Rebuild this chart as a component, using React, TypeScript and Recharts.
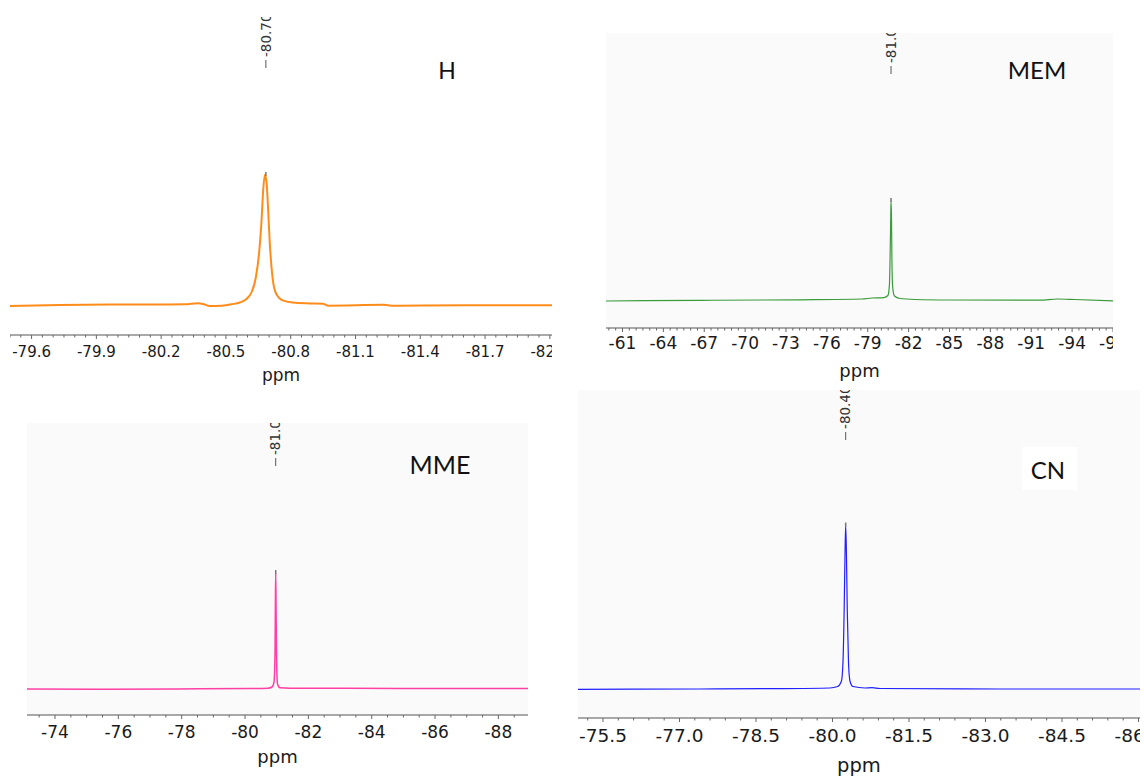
import React from "react";
import { LineChart, Line, XAxis, YAxis, CartesianGrid, ReferenceDot } from "recharts";

// 19F NMR spectra (ppm, normalised intensity)
const hPpm = [-79.5, -79.731, -79.962, -80.148, -80.31, -80.37, -80.393, -80.425, -80.481, -80.527, -80.564, -80.592, -80.619, -80.638, -80.654, -80.665, -80.672, -80.68, -80.688, -80.695, -80.703, -80.716, -80.731, -80.763, -80.81, -80.888, -80.949, -80.972, -81.231, -81.268, -81.629, -82.01];
const hInt = [-0.008, 0, 0.003, 0.004, 0.005, 0.013, 0.008, -0.008, -0.005, 0.006, 0.019, 0.042, 0.1, 0.208, 0.408, 0.654, 0.869, 1.0, 0.946, 0.746, 0.477, 0.208, 0.092, 0.035, 0.019, 0.012, 0.009, -0.005, 0.001, -0.005, -0.002, -0.002];

const memPpm = [-59.79, -66.69, -74.02, -78.57, -79.31, -80.19, -80.48, -80.59, -80.65, -80.69, -80.71, -80.74, -80.77, -80.83, -80.96, -81.36, -82.46, -85.03, -91.63, -92.95, -94.2, -97.0];
const memInt = [-0.01, -0.003, 0.002, 0.01, 0.02, 0.025, 0.045, 0.15, 0.505, 0.86, 1.0, 0.86, 0.455, 0.13, 0.04, 0.015, 0.005, 0, -0.002, 0.01, 0.005, -0.008];

const mmePpm = [-73.116, -75.42, -78.58, -80.157, -80.726, -80.852, -80.915, -80.947, -80.959, -80.969, -80.981, -80.997, -81.026, -81.105, -81.42, -84.89, -88.935];
const mmeInt = [-0.004, -0.006, -0.003, -0.001, 0.002, 0.013, 0.056, 0.29, 0.723, 1.0, 0.68, 0.247, 0.039, 0.006, 0.002, 0.001, 0];

const cnPpm = [-75.01, -77.4, -78.77, -79.95, -80.1, -80.176, -80.206, -80.229, -80.247, -80.259, -80.273, -80.29, -80.314, -80.343, -80.402, -80.637, -80.775, -80.931, -83.284, -86.03];
const cnInt = [-0.002, 0, 0.002, 0.006, 0.015, 0.049, 0.165, 0.483, 0.85, 1.0, 0.838, 0.483, 0.165, 0.049, 0.015, 0.006, 0.008, 0.003, 0, 0];

// axis labels
const hMajor = [-79.6, -79.9, -80.2, -80.5, -80.8, -81.1, -81.4, -81.7, -82.0];
const memMajor = [-61, -64, -67, -70, -73, -76, -79, -82, -85, -88, -91, -94, -97];
const mmeMajor = [-74, -76, -78, -80, -82, -84, -86, -88];
const cnMajor = [-75.5, -77.0, -78.5, -80.0, -81.5, -83.0, -84.5, -86.0];

const minorTicks = (start: number, step: number, count: number) => {
  const out: number[] = [];
  for (let i = 0; i < count; i++) out.push(+(start - i * step).toFixed(4));
  return out;
};

const makeTick = (majors: number[], decimals: number, fontSize: number, labelDy: number) => (props: any) => {
  const { x, y, payload } = props;
  const isMajor = majors.some((m) => Math.abs(m - payload.value) < 1e-6);
  return (
    <g>
      <line x1={x} y1={y} x2={x} y2={y + (isMajor ? 4 : 2.5)} stroke="#666" strokeWidth={1} />
      {isMajor && (
        <text x={x} y={y + labelDy} dy="0.36em" textAnchor="middle" fontSize={fontSize} fill="#1a1a1a" fontFamily="DejaVu Sans">
          {payload.value.toFixed(decimals)}
        </text>
      )}
    </g>
  );
};

const makePeakLabel = (text: string) => (props: any) => {
  const { cx, cy } = props;
  const ty = cy - 11;
  return (
    <g>
      <line x1={cx} y1={cy} x2={cx} y2={cy - 8} stroke="#555" strokeWidth={1} />
      <text x={cx} y={ty} dy="0.35em" transform={`rotate(-90 ${cx} ${ty})`} fontSize={13.5} fill="#333" fontFamily="DejaVu Sans">
        {text}
      </text>
    </g>
  );
};

const apexMark = (props: any) => {
  const { cx, cy } = props;
  return <line x1={cx} y1={cy - 3} x2={cx} y2={cy + 1} stroke="#777" strokeWidth={1.5} />;
};

type PanelProps = {
  left: number;
  top: number;
  width: number;
  plotH: number;
  axisH: number;
  xDomain: [number, number];
  yDomain: [number, number];
  ppm: number[];
  intensity: number[];
  color: string;
  strokeWidth: number;
  majors: number[];
  ticks: number[];
  decimals: number;
  fontSize: number;
  labelDy: number;
  ppmSize: number;
  bg?: string;
  peakX: number;
  peakLabelY: number;
  peakText: string;
};

const Panel: React.FC<PanelProps> = (p) => {
  const data = p.ppm.map((x, i) => ({ x, y: p.intensity[i] }));
  return (
    <div style={{ position: "absolute", left: p.left, top: p.top }}>
      <LineChart width={p.width} height={p.plotH + p.axisH} data={data} margin={{ top: 0, right: 0, bottom: 0, left: 0 }}>
        {p.bg && <CartesianGrid horizontal={false} vertical={false} fill={p.bg} stroke="none" />}
        <XAxis
          dataKey="x"
          type="number"
          domain={p.xDomain}
          reversed
          allowDataOverflow
          ticks={p.ticks}
          interval={0}
          tick={makeTick(p.majors, p.decimals, p.fontSize, p.labelDy)}
          tickLine={false}
          tickSize={0}
          tickMargin={0}
          axisLine={{ stroke: "#555" }}
          height={p.axisH}
          label={{ value: "ppm", position: "insideBottom", offset: 6.5, fontSize: p.ppmSize, fill: "#1a1a1a", fontFamily: "DejaVu Sans" }}
        />
        <YAxis hide width={0} type="number" domain={p.yDomain} allowDataOverflow />
        <Line type="monotone" dataKey="y" stroke={p.color} strokeWidth={p.strokeWidth} dot={false} isAnimationActive={false} />
        <ReferenceDot x={p.peakX} y={1} r={0} shape={apexMark} />
        <ReferenceDot x={p.peakX} y={p.peakLabelY} r={0} shape={makePeakLabel(p.peakText)} />
      </LineChart>
    </div>
  );
};

const titles = [
  { text: "H", x: 447, y: 71, size: 23 },
  { text: "MEM", x: 1037, y: 70, size: 24 },
  { text: "MME", x: 440, y: 465, size: 25 },
  { text: "CN", x: 1048, y: 470, size: 24 },
];

export default function App() {
  return (
    <div style={{ position: "absolute", left: 0, top: 0, width: 1144, height: 778, background: "#fff", overflow: "hidden" }}>
      <Panel
        left={10} top={17} width={542} plotH={318} axisH={52}
        xDomain={[-82.01, -79.5]} yDomain={[-0.2308, 2.2154]}
        ppm={hPpm} intensity={hInt} color="#ff8c1a" strokeWidth={2}
        majors={hMajor} ticks={minorTicks(-79.5, 0.05, 51)} decimals={1}
        fontSize={15} labelDy={17} ppmSize={17}
        peakX={-80.685} peakLabelY={1.823} peakText="-80.70"
      />
      <Panel
        left={606} top={33} width={507} plotH={295} axisH={55}
        xDomain={[-97, -59.79]} yDomain={[-0.2828, 2.697]}
        ppm={memPpm} intensity={memInt} color="#3a9b3a" strokeWidth={1.2}
        majors={memMajor} ticks={minorTicks(-60, 0.5, 75)} decimals={0}
        fontSize={17} labelDy={15} ppmSize={18} bg="#fafafa"
        peakX={-80.71} peakLabelY={2.283} peakText="-81.00"
      />
      <Panel
        left={27} top={423} width={501} plotH={292} axisH={54}
        xDomain={[-88.935, -73.116]} yDomain={[-0.2294, 2.2987]}
        ppm={mmePpm} intensity={mmeInt} color="#ff3fa4" strokeWidth={1.5}
        majors={mmeMajor} ticks={minorTicks(-73.5, 0.5, 31)} decimals={0}
        fontSize={17} labelDy={16.7} ppmSize={18} bg="#fafafa"
        peakX={-80.969} peakLabelY={1.926} peakText="-81.00"
      />
      <Panel
        left={578} top={390} width={562} plotH={328} axisH={60}
        xDomain={[-86.03, -75.01]} yDomain={[-0.1774, 1.8287]}
        ppm={cnPpm} intensity={cnInt} color="#1f1fff" strokeWidth={1.2}
        majors={cnMajor} ticks={minorTicks(-75.2, 0.3, 37)} decimals={1}
        fontSize={18.5} labelDy={17.7} ppmSize={19.5} bg="#fafafa"
        peakX={-80.259} peakLabelY={1.523} peakText="-80.40"
      />
      <svg width={1144} height={778} style={{ position: "absolute", left: 0, top: 0, pointerEvents: "none" }}>
        <rect x={1022} y={447} width={55} height={43} fill="#ffffff" />
        {titles.map((t) => (
          <text key={t.text} x={t.x} y={t.y + t.size * 0.36} textAnchor="middle" fontSize={t.size} fontFamily="Lato" fill="#111">
            {t.text}
          </text>
        ))}
      </svg>
    </div>
  );
}
